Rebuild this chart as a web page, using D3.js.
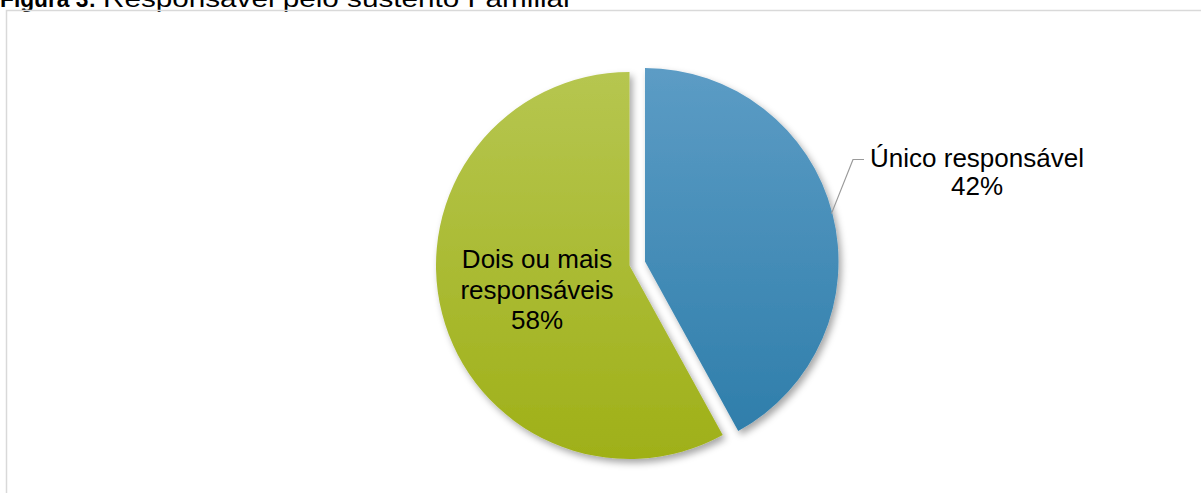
<!DOCTYPE html>
<html>
<head>
<meta charset="utf-8">
<script src="https://cdn.jsdelivr.net/npm/d3@7"></script>
<style>
  html, body { margin: 0; padding: 0; background: #fff; }
  svg { display: block; font-family: Arial, "Liberation Sans", sans-serif; }
</style>
</head>
<body>
<svg id="chart" width="1201" height="493"></svg>
<script>
// Responsible for household income
const categories = ["Único responsável", "Dois ou mais responsáveis"];
const labelLines = [["Único responsável"], ["Dois ou mais", "responsáveis"]];
const values = [42, 58];
const topColors = ["#5c9cc5", "#b6c650"];
const bottomColors = ["#2c7ca9", "#9fb018"];

const svg = d3.select("#chart");
const W = 1201, H = 493;

// title (partly above the frame), set in a stretched face
svg.append("text").attr("x", 0).attr("y", 6.5).attr("font-size", 24)
  .attr("font-weight", "bold").attr("fill", "#000")
  .attr("textLength", 96).attr("lengthAdjust", "spacingAndGlyphs")
  .text("Figura 3:");
svg.append("text").attr("x", 103).attr("y", 6.5).attr("font-size", 24).attr("fill", "#000")
  .attr("textLength", 470).attr("lengthAdjust", "spacingAndGlyphs")
  .text("Responsável pelo sustento Familiar");

// chart frame
svg.append("path")
  .attr("d", `M6.5,${H + 2} L6.5,10.5 L${W + 2},10.5`)
  .attr("fill", "none").attr("stroke", "#d9d9d9").attr("stroke-width", 1.5);

const defs = svg.append("defs");
const shadow = defs.append("filter").attr("id", "shadow")
  .attr("x", "-20%").attr("y", "-20%").attr("width", "140%").attr("height", "140%");
shadow.append("feDropShadow").attr("dx", 3).attr("dy", 4).attr("stdDeviation", 3.5)
  .attr("flood-color", "#000").attr("flood-opacity", 0.35);

const cx = 629.5, cy = 265.5, r = 193.5, explode = 16;

const pie = d3.pie().sort(null).startAngle(0).endAngle(2 * Math.PI);
const arcs = pie(values);
const arc = d3.arc().innerRadius(0).outerRadius(r);

arcs.forEach((d, i) => {
  const g = defs.append("linearGradient").attr("id", "grad" + i)
    .attr("gradientUnits", "userSpaceOnUse")
    .attr("x1", 0).attr("y1", -r).attr("x2", 0).attr("y2", r);
  g.append("stop").attr("offset", "0%").attr("stop-color", topColors[i]);
  g.append("stop").attr("offset", "100%").attr("stop-color", bottomColors[i]);
});

const mid = d => (d.startAngle + d.endAngle) / 2;
const offset = (d, i) => i === 0 ? [Math.sin(mid(d)) * explode, -Math.cos(mid(d)) * explode] : [0, 0];

const slices = svg.append("g").attr("filter", "url(#shadow)");
slices.selectAll("path").data(arcs).join("path")
  .attr("transform", (d, i) => {
    const [dx, dy] = offset(d, i);
    return `translate(${cx + dx},${cy + dy})`;
  })
  .attr("d", arc)
  .attr("fill", (d, i) => `url(#grad${i})`);

// label for the exploded slice, with leader line from the arc midpoint
const d0 = arcs[0];
const [ox, oy] = offset(d0, 0);
const bx = cx + ox, by = cy + oy;
const a0 = mid(d0);
const p0 = [bx + Math.sin(a0) * (r - 1), by - Math.cos(a0) * (r - 1)];
const elbowY = 159.5;
svg.append("polyline")
  .attr("points", [p0, [853, elbowY], [864, elbowY]].map(p => p.join(",")).join(" "))
  .attr("fill", "none").attr("stroke", "#9a9a9a").attr("stroke-width", 1.2);

const fs = 26;
const lab0 = svg.append("text").attr("text-anchor", "middle").attr("font-size", fs).attr("fill", "#000");
lab0.append("tspan").attr("x", 977).attr("y", 167).text(labelLines[0][0]);
lab0.append("tspan").attr("x", 977).attr("y", 195).text(d3.format(".0f")(values[0]) + "%");

// label inside the larger slice
const lab1 = svg.append("text").attr("text-anchor", "middle").attr("font-size", fs).attr("fill", "#000");
labelLines[1].forEach((t, k) => {
  lab1.append("tspan").attr("x", 537).attr("y", 268 + k * 30.5).text(t);
});
lab1.append("tspan").attr("x", 537).attr("y", 268 + 2 * 30.5).text(values[1] + "%");
</script>
</body>
</html>
